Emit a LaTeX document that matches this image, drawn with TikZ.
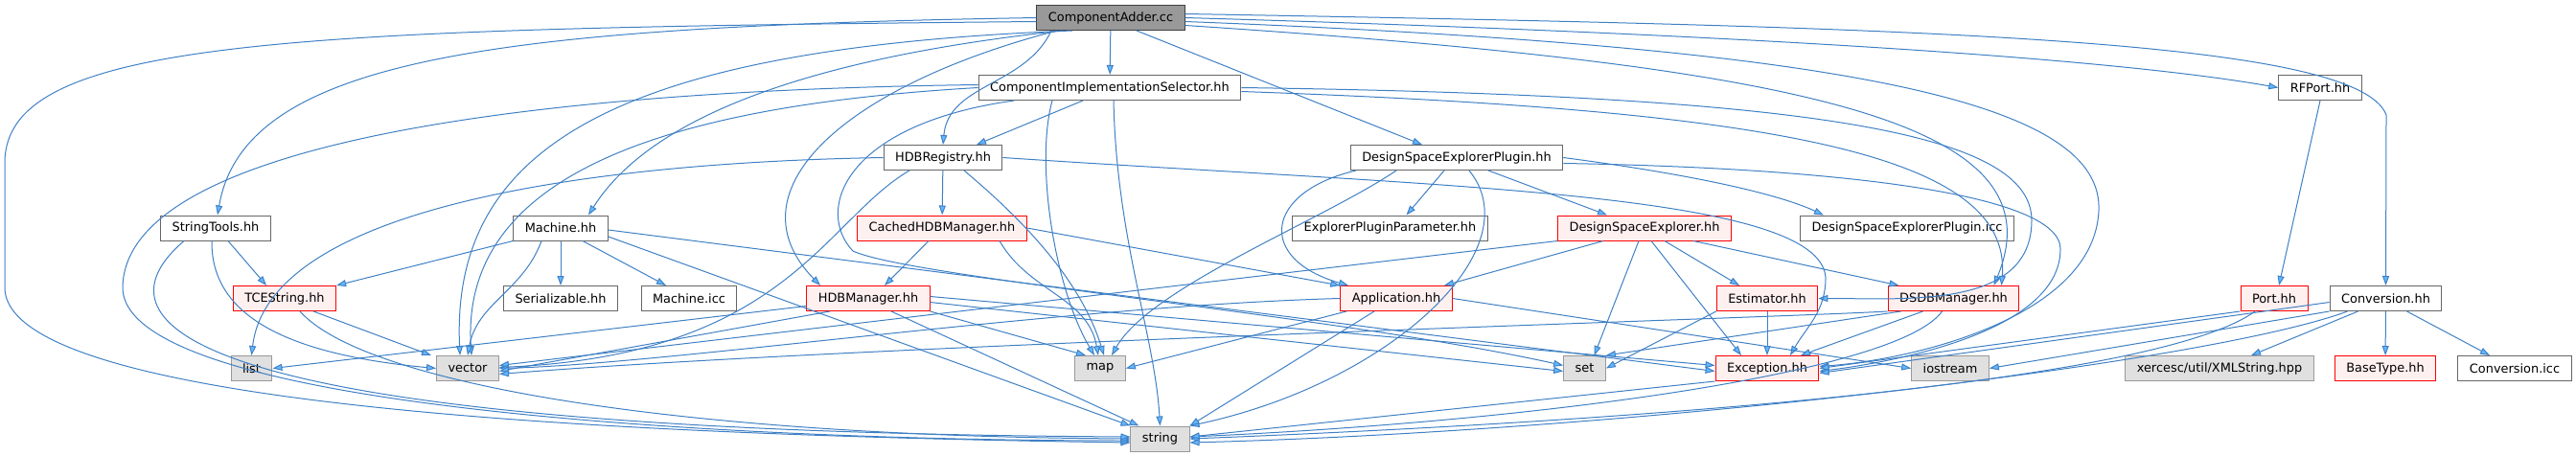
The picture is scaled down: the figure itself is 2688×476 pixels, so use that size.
\documentclass[tikz,border=0pt]{standalone}
\usepackage{fontspec}
\setmainfont{DejaVu Sans}
\usepackage{xcolor}
\usepackage{tikz}
\usetikzlibrary{arrows.meta}

\definecolor{edgeblue}{HTML}{3F80C4}
\definecolor{tipblue}{HTML}{63B8FF}
\definecolor{redfill}{HTML}{FFF0F0}
\definecolor{sysfill}{HTML}{E0E0E0}

\begin{document}
\begin{tikzpicture}[
    x=1pt,
    y=-1pt,
    file/.style={
        rectangle,
        draw=black!60,
        fill=white,
        line width=1pt,
        minimum height=26pt,
        inner xsep=12pt,
        inner ysep=0pt,
        font=\fontsize{12.9}{15}\selectfont
    },
    mainfile/.style={
        file,
        draw=black!75,
        fill=black!40
    },
    redfile/.style={
        file,
        draw=red,
        fill=redfill
    },
    sysfile/.style={
        file,
        draw=black!40,
        fill=sysfill
    },
    dep/.style={
        -{Triangle[length=10pt,width=7pt,fill=tipblue]},
        draw=edgeblue,
        line width=1pt
    }
]
    \useasboundingbox (0,0) rectangle (2688,476);

    \node[mainfile] (adder) at (1159,18.5) {ComponentAdder.cc};
    \node[file] (selector) at (1158,91.5) {ComponentImplementationSelector.hh};
    \node[file] (rfport) at (2421,91.5) {RFPort.hh};
    \node[file] (registry) at (984,164.5) {HDBRegistry.hh};
    \node[file] (dseplugin) at (1520,164.5) {DesignSpaceExplorerPlugin.hh};
    \node[file] (strtools) at (225,238) {StringTools.hh};
    \node[file] (machine) at (585,238) {Machine.hh};
    \node[redfile] (cachedhdb) at (983,238) {CachedHDBManager.hh};
    \node[file] (eparam) at (1450.5,238) {ExplorerPluginParameter.hh};
    \node[redfile] (dse) at (1716,238) {DesignSpaceExplorer.hh};
    \node[file] (dsepicc) at (1990,238) {DesignSpaceExplorerPlugin.icc};
    \node[redfile] (tcestr) at (297,311.5) {TCEString.hh};
    \node[file] (serial) at (585,311.5) {Serializable.hh};
    \node[file] (machicc) at (719,311.5) {Machine.icc};
    \node[redfile] (hdbman) at (906,311.5) {HDBManager.hh};
    \node[redfile] (app) at (1457,311.5) {Application.hh};
    \node[redfile] (estim) at (1844,311.5) {Estimator.hh};
    \node[redfile] (dsdb) at (2038.5,311.5) {DSDBManager.hh};
    \node[redfile] (porth) at (2373,311.5) {Port.hh};
    \node[file] (conv) at (2489.5,311.5) {Conversion.hh};
    \node[sysfile] (list) at (262.5,384.5) {list};
    \node[sysfile] (vector) at (488,384.5) {vector};
    \node[sysfile] (map) at (1148,384.5) {map};
    \node[sysfile] (set) at (1653.5,384.5) {set};
    \node[redfile] (except) at (1844,384.5) {Exception.hh};
    \node[sysfile] (iostream) at (2035,384.5) {iostream};
    \node[sysfile] (xmlstr) at (2316,384.5) {xercesc/util/XMLString.hpp};
    \node[redfile] (basetype) at (2489,384.5) {BaseType.hh};
    \node[file] (convicc) at (2624,384.5) {Conversion.icc};
    \node[sysfile] (string) at (1210.5,458) {string};

    \draw[dep] (adder) -- (selector);
    \draw[dep] ([xshift=-62pt]adder.south) to[out=-115,in=85] (registry.north);
    \draw[dep] ([xshift=27pt]adder.south) -- ([xshift=-36pt]dseplugin.north);
    \draw[dep] (adder.west) .. controls (520,28) and (255,60) .. ([xshift=2pt]strtools.north);
    \draw[dep] ([yshift=-4pt]adder.west) .. controls (300,30) and (5,40) .. (5,170) -- (5,300) .. controls (5,430) and (700,455) .. ([yshift=-4pt]string.west);
    \draw[dep] ([xshift=-40pt]adder.south) .. controls (650,50) and (470,150) .. ([xshift=-8pt]vector.north);
    \draw[dep] ([xshift=-50pt]adder.south) .. controls (850,60) and (680,120) .. ([xshift=29pt]machine.north);
    \draw[dep] ([xshift=-56pt]adder.south) .. controls (880,90) and (760,200) .. ([xshift=-50pt]hdbman.north);
    \draw[dep] ([yshift=4pt]adder.east) .. controls (2000,28) and (2460,40) .. (2490,120) -- (conv.north);
    \draw[dep] (adder.east) .. controls (1800,35) and (2200,60) .. (rfport.west);
    \draw[dep] ([yshift=-4pt]adder.east) .. controls (1950,50) and (2195,110) .. (2190,220) .. controls (2185,330) and (2000,375) .. ([yshift=2pt]except.east);
    \draw[dep] ([yshift=-8pt]adder.east) .. controls (1900,70) and (2150,130) .. ([xshift=42pt]dsdb.north);

    \draw[dep] ([xshift=-28pt]selector.south) -- ([xshift=35pt]registry.north);
    \draw[dep] ([yshift=3pt]selector.west) .. controls (500,95) and (130,160) .. (128,300) .. controls (128,430) and (800,460) .. ([yshift=-2pt]string.west);
    \draw[dep] (selector.west) .. controls (700,110) and (480,180) .. ([xshift=4pt]vector.north);
    \draw[dep] ([xshift=-60pt]selector.south) .. controls (1080,170) and (1100,300) .. ([xshift=-6pt]map.north);
    \draw[dep] ([xshift=4pt]selector.south) .. controls (1165,250) and (1205,350) .. (string.north);
    \draw[dep] ([xshift=-100pt]selector.south) .. controls (880,130) and (850,220) .. (890,262) .. controls (950,290) and (1400,330) .. ([yshift=3pt]set.west);
    \draw[dep] (selector.east) .. controls (1900,100) and (2120,140) .. (2120,230) to[out=-90,in=0] (estim.east);
    \draw[dep] ([yshift=-4pt]selector.east) .. controls (1850,115) and (2100,160) .. ([xshift=50pt]dsdb.north);

    \draw[dep] (registry) -- (cachedhdb);
    \draw[dep] (registry.west) .. controls (600,170) and (280,220) .. (list.north);
    \draw[dep] ([xshift=-35pt]registry.south) .. controls (860,230) and (820,370) .. ([yshift=1pt]vector.east);
    \draw[dep] ([xshift=22pt]registry.south) .. controls (1080,240) and (1130,300) .. ([xshift=4pt]map.north);
    \draw[dep] (registry.east) .. controls (1500,195) and (1900,200) .. (1905,290) to[out=-90,in=60] ([xshift=24pt]except.north);

    \draw[dep] ([xshift=-14pt]cachedhdb.south) -- ([xshift=17pt]hdbman.north);
    \draw[dep] ([xshift=60pt]cachedhdb.south) to[out=-60,in=100] ([xshift=-2pt]map.north);
    \draw[dep] (cachedhdb.east) -- (app.north west);

    \draw[dep] ([xshift=-13pt]dseplugin.south) -- ([xshift=17pt]eparam.north);
    \draw[dep] ([xshift=33pt]dseplugin.south) -- ([xshift=-39pt]dse.north);
    \draw[dep] (dseplugin.east) .. controls (1750,180) and (1850,200) .. ([xshift=-87pt]dsepicc.north);
    \draw[dep] ([xshift=-105pt]dseplugin.south) .. controls (1320,200) and (1310,270) .. ([xshift=-50pt]app.north);
    \draw[dep] ([xshift=-63pt]dseplugin.south) .. controls (1380,230) and (1200,300) .. ([xshift=12pt]map.north);
    \draw[dep] ([xshift=13pt]dseplugin.south) .. controls (1600,260) and (1450,400) .. (string.north east);
    \draw[dep] ([yshift=-6pt]dseplugin.east) .. controls (1900,175) and (2150,200) .. (2150,260) .. controls (2150,350) and (1960,380) .. ([yshift=-3pt]except.east);

    \draw[dep] ([xshift=-43pt]dse.south) -- ([xshift=50pt]app.north);
    \draw[dep] ([xshift=-6pt]dse.south) -- ([xshift=10pt]set.north);
    \draw[dep] ([xshift=7pt]dse.south) -- ([xshift=-27pt]except.north);
    \draw[dep] ([xshift=21pt]dse.south) -- ([xshift=-29pt]estim.north);
    \draw[dep] ([xshift=51pt]dse.south) -- ([xshift=-57pt]dsdb.north);
    \draw[dep] (dse.south west) -- ([yshift=3pt]vector.east);

    \draw[dep] ([xshift=-52pt]app.south) -- (map.east);
    \draw[dep] ([xshift=-23pt]app.south) -- (string.north east);
    \draw[dep] (app.west) .. controls (1100,320) and (700,380) .. (vector.east);
    \draw[dep] (app.east) -- (iostream.west);

    \draw[dep] ([yshift=-8pt]hdbman.west) -- (list.east);
    \draw[dep] ([xshift=-40pt]hdbman.south) -- ([yshift=-3pt]vector.east);
    \draw[dep] ([xshift=24pt]hdbman.south) -- ([xshift=-22pt]string.north);
    \draw[dep] (hdbman.south east) -- ([xshift=-15pt]map.north);
    \draw[dep] ([yshift=-4pt]hdbman.east) -- ([yshift=-3pt]set.west);
    \draw[dep] ([yshift=2pt]hdbman.east) -- ([yshift=3pt]except.west);

    \draw[dep] (machine.south west) -- (tcestr.north east);
    \draw[dep] ([xshift=-20pt]machine.south) to[out=-110,in=80] (vector.north);
    \draw[dep] (machine) -- (serial);
    \draw[dep] ([xshift=23pt]machine.south) -- ([xshift=-24pt]machicc.north);
    \draw[dep] ([yshift=-9pt]machine.east) -- (string.north west);
    \draw[dep] ([yshift=-2pt]machine.east) -- ([yshift=-3pt]except.west);

    \draw[dep] ([xshift=30pt]tcestr.south) -- ([xshift=-5pt]vector.north west);
    \draw[dep] ([xshift=16pt]tcestr.south) .. controls (380,400) and (700,455) .. (string.west);

    \draw[dep] ([xshift=13pt]strtools.south) -- ([xshift=-19pt]tcestr.north);
    \draw[dep] ([xshift=-4pt]strtools.south) .. controls (220,330) and (300,370) .. (vector.west);
    \draw[dep] ([xshift=-33pt]strtools.south) .. controls (100,330) and (150,450) .. ([yshift=2pt]string.west);

    \draw[dep] (estim) -- (except);
    \draw[dep] (estim.south west) -- (set.east);

    \draw[dep] (dsdb.south west) .. controls (1850,332) and (900,360) .. ([yshift=-6pt]vector.east);
    \draw[dep] ([xshift=-55pt]dsdb.south) -- (set.north east);
    \draw[dep] ([xshift=-32pt]dsdb.south) -- ([xshift=35pt]except.north);
    \draw[dep] ([xshift=-12pt]dsdb.south) .. controls (1980,390) and (1600,440) .. ([yshift=2pt]string.east);

    \draw[dep] (rfport.south) -- ([xshift=5pt]porth.north);
    \draw[dep] (porth.south west) -- (except.east);
    \draw[dep] ([xshift=-20pt]porth.south) .. controls (2250,400) and (1700,440) .. (string.east);

    \draw[dep] ([yshift=-4pt]conv.west) -- ([yshift=-5pt]except.east);
    \draw[dep] (conv.south west) -- (iostream.east);
    \draw[dep] ([xshift=-40pt]conv.south) .. controls (2300,380) and (1700,450) .. ([yshift=-4pt]string.east);
    \draw[dep] ([xshift=-29pt]conv.south) -- ([xshift=33pt]xmlstr.north);
    \draw[dep] (conv) -- (basetype);
    \draw[dep] ([xshift=22pt]conv.south) -- ([xshift=-26pt]convicc.north);

    \draw[dep] (except.south west) -- ([yshift=2pt]string.east);
\end{tikzpicture}
\end{document}
